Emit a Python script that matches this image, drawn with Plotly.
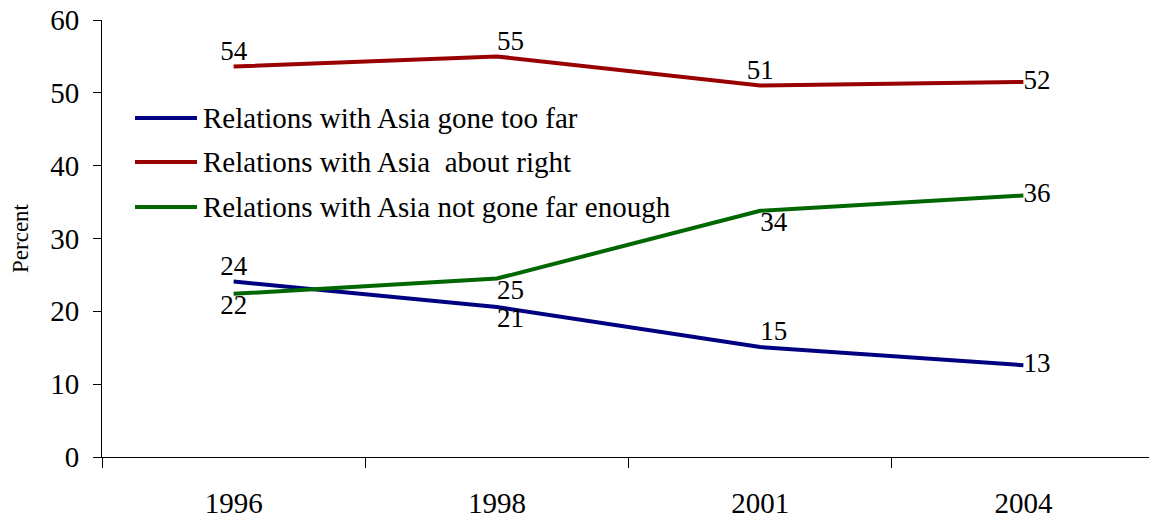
import plotly.graph_objects as go

# Data
years = ["1996", "1998", "2001", "2004"]
names = [
    "Relations with Asia gone too far",
    "Relations with Asia  about right",
    "Relations with Asia not gone far enough",
]
too_far = [24.1, 20.6, 15.1, 12.6]
about_right = [53.6, 55.0, 51.0, 51.5]
not_enough = [22.4, 24.5, 33.8, 35.9]
too_far_lbl = ["24", "21", "15", "13"]
about_right_lbl = ["54", "55", "51", "52"]
not_enough_lbl = ["22", "25", "34", "36"]

colors = ["#000080", "#990000", "#006600"]
positions = [
    ["top center", "bottom right", "top right", "middle right"],
    ["top center", "top right", "top center", "middle right"],
    ["bottom center", "bottom right", "bottom right", "middle right"],
]
series = [(too_far, too_far_lbl), (about_right, about_right_lbl), (not_enough, not_enough_lbl)]

FONT = "Liberation Serif, Times New Roman, serif"

# page has an 8px body margin, so the figure is a bit smaller than the window
W, H = 1149, 512
ML, MR, MT, MB = 94, 2, 12, 63
px0 = 8 + ML                  # plot left edge in page pixels
pw = W - ML - MR
py1 = 8 + H - MB              # plot bottom in page pixels
ph = H - MT - MB

fig = go.Figure()
for (vals, lbls), name, col, pos in zip(series, names, colors, positions):
    fig.add_trace(go.Scatter(
        x=years, y=vals, name=name, mode="lines+text",
        text=lbls, textposition=pos,
        textfont=dict(family=FONT, size=27, color="black"),
        line=dict(color=col, width=4),
        showlegend=False,
        cliponaxis=False,
    ))

# hand-drawn legend inside the plot
row_y = [118, 162, 207]
for name, col, ry in zip(names, colors, row_y):
    yy = (py1 - ry) / ph
    fig.add_shape(type="line", xref="paper", yref="paper",
                  x0=(135 - px0) / pw, x1=(197 - px0) / pw, y0=yy, y1=yy,
                  line=dict(color=col, width=4))
    fig.add_annotation(xref="paper", yref="paper", x=(201 - px0) / pw,
                       y=yy, text=name, showarrow=False,
                       xanchor="left", yanchor="middle",
                       font=dict(family=FONT, size=29, color="black"))

fig.update_layout(
    width=W, height=H,
    margin=dict(l=ML, r=MR, t=MT, b=MB),
    plot_bgcolor="white", paper_bgcolor="white",
    font=dict(family=FONT, color="black"),
)
fig.update_xaxes(
    type="category", range=[-0.5, 3.5], automargin=False,
    showline=True, linecolor="black", linewidth=1,
    ticks="outside", tickson="boundaries", ticklen=10, tickcolor="black",
    tickfont=dict(family=FONT, size=29), ticklabelstandoff=20,
    showgrid=False, zeroline=False,
)
fig.update_yaxes(
    range=[0, 60], dtick=10, automargin=False,
    showline=True, linecolor="black", linewidth=1,
    ticks="outside", ticklen=8, tickcolor="black",
    tickfont=dict(family=FONT, size=29), ticklabelstandoff=8,
    ticklabeloverflow="allow",
    showgrid=False, zeroline=False,
    title=dict(text="Percent", font=dict(family=FONT, size=23), standoff=38),
)

fig.write_html("out.html")
